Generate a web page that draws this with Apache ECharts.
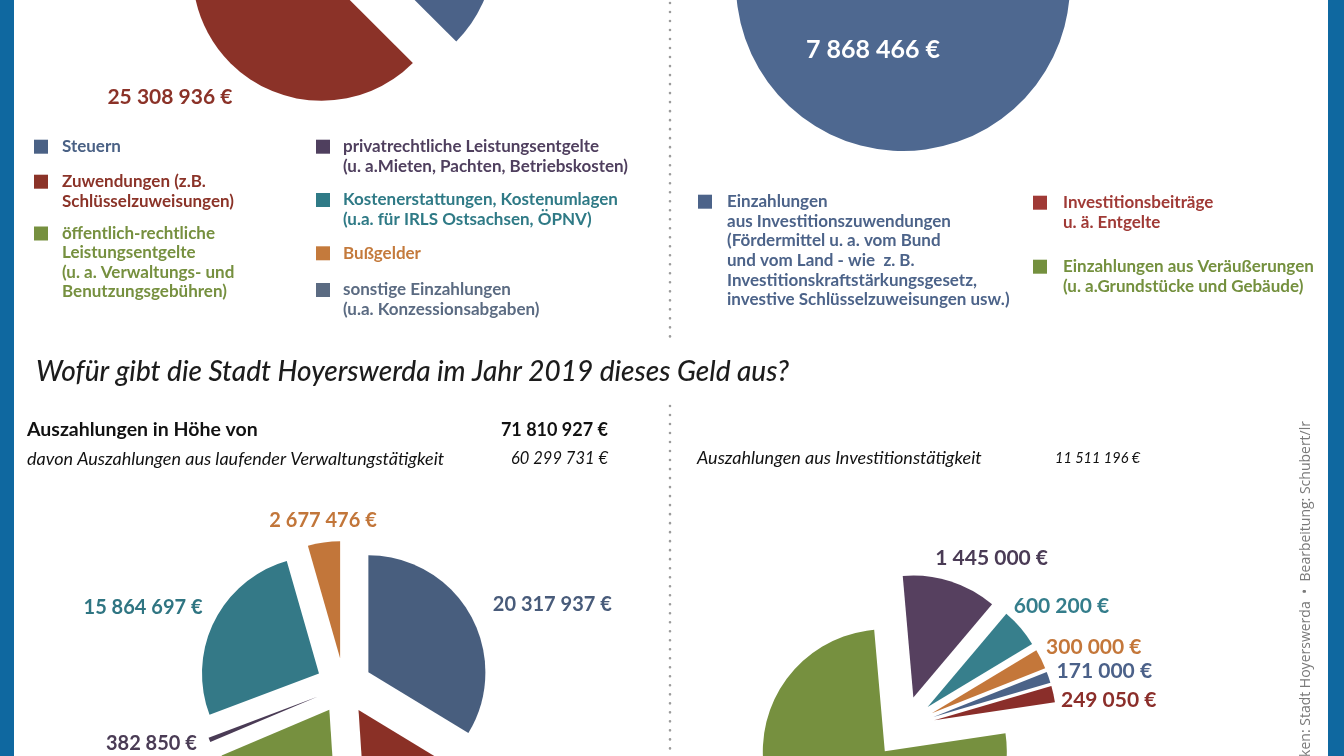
<!DOCTYPE html>
<html><head><meta charset="utf-8">
<script src="https://cdn.jsdelivr.net/npm/echarts@6/dist/echarts.min.js"></script>
<style>html,body{margin:0;padding:0;background:#fff;overflow:hidden}#c{width:1344px;height:756px}</style>
</head><body><div id="c"></div>
<script>
// ================= DATA =================
// Einzahlungen aus laufender Verwaltungstätigkeit (top-left pie; only Zuwendungen is readable, rest estimated)
const einzCategories = ['Steuern','Zuwendungen','öffentlich-rechtliche Leistungsentgelte','privatrechtliche Leistungsentgelte','Kostenerstattungen, Kostenumlagen','Bußgelder','sonstige Einzahlungen'];
const einzValues = [13200000, 25308936, 6500000, 2400000, 7200000, 190000, 3200000];
const einzLegend = ['Steuern','Zuwendungen (z.B.\nSchlüsselzuweisungen)','öffentlich-rechtliche\nLeistungsentgelte\n(u. a. Verwaltungs- und\nBenutzungsgebühren)','privatrechtliche Leistungsentgelte\n(u. a.Mieten, Pachten, Betriebskosten)','Kostenerstattungen, Kostenumlagen\n(u.a. für IRLS Ostsachsen, ÖPNV)','Bußgelder','sonstige Einzahlungen\n(u.a. Konzessionsabgaben)'];
const einzShowLabel = [false, true, false, false, false, false, false];

// Einzahlungen aus Investitionstätigkeit (top-right pie)
const invInCategories = ['Einzahlungen aus Investitionszuwendungen','Investitionsbeiträge u. ä. Entgelte','Einzahlungen aus Veräußerungen'];
const invInValues = [7868466, 120000, 580000];
const invInLegend = ['Einzahlungen\naus Investitionszuwendungen\n(Fördermittel u. a. vom Bund\nund vom Land - wie  z. B.\nInvestitionskraftstärkungsgesetz,\ninvestive Schlüsselzuweisungen usw.)','Investitionsbeiträge\nu. ä. Entgelte','Einzahlungen aus Veräußerungen\n(u. a.Grundstücke und Gebäude)'];
const invInShowLabel = [true, false, false];

// Auszahlungen aus laufender Verwaltungstätigkeit (bottom-left pie)
const auszCategories = ['blau','rot','grün','violett','petrol','orange'];
const auszValues = [20317937, 9200000, 11856771, 382850, 15864697, 2677476];
const auszShowLabel = [true, false, false, true, true, true];

// Auszahlungen aus Investitionstätigkeit (bottom-right pie)
const invOutCategories = ['violett','petrol','orange','blau','rot','grün'];
const invOutValues = [1445000, 600200, 300000, 171000, 249050, 8745946];
const invOutShowLabel = [true, true, true, true, true, false];

// Header figures
const headerTitle = 'Wofür gibt die Stadt Hoyerswerda im Jahr 2019 dieses Geld aus?';
const auszTotal = 71810927;
const auszLaufend = 60299731;
const auszInvest = 11511196;
const credit = 'Grafiken: Stadt Hoyerswerda  •  Bearbeitung: Schubert/lr';

// ================= STYLE =================
const FF = 'Lato, "Open Sans", sans-serif';
const C = {blue:'#4b6288', red:'#8b3228', green:'#76903f', purple:'#4f3f5e', teal:'#357b88', orange:'#c27538', grey:'#5e6f86', border:'#0f68a0'};
const einzColors = [C.blue, C.red, C.green, C.purple, C.teal, C.orange, C.grey];
const invInColors = ['#4e6890', '#a03a36', C.green];
const auszColors = ['#485e7e', '#8a3026', '#76903f', '#4a3b55', '#347987', '#c2763a'];
const auszLabelColors = ['#485b7a', '#8a3026', '#76903f', '#4a3c55', '#2f7582', '#c2763a'];
const invOutColors = ['#56405f', '#377f8c', '#c4773a', '#4b6388', '#8a2e2a', '#76903f'];
const invOutLabelColors = ['#4a3b55', '#347d8b', '#c4773a', '#4b6189', '#8b2e2a', '#76903f'];

function fmt(v){ return String(v).replace(/\B(?=(\d{3})+(?!\d))/g,' ') + ' €'; }

function explodedPie(cfg){
  const total = cfg.values.reduce((a,b)=>a+b,0);
  let ang = cfg.startAngle;
  return cfg.values.map((v,i)=>{
    const span = v/total*360;
    const mid = (ang - span/2)*Math.PI/180;
    ang -= span;
    const d = cfg.explode;
    const n = (cfg.nudge && cfg.nudge[i]) || {dx:0, dy:0};
    const ll = {dx:n.dx, dy:n.dy};
    if (n.align) ll.align = n.align;
    return {
      type:'pie', silent:true, animation:false, avoidLabelOverlap:false,
      center:[cfg.center[0] + d*Math.cos(mid), cfg.center[1] - d*Math.sin(mid)],
      radius: cfg.radius, startAngle: cfg.startAngle, clockwise:true,
      labelLine:{show:false, length:cfg.labelLen, length2:0},
      label:{show:true, position:cfg.labelPos, distanceToLabelLine:0, fontFamily:FF, fontWeight:'bold',
             fontSize:cfg.fontSize, color:cfg.labelColors[i], formatter:p=>fmt(p.value)},
      labelLayout: ll,
      data: cfg.values.map((vv,j)=>({
        name: cfg.names[j], value: vv,
        itemStyle:{color: j===i ? cfg.colors[j] : 'rgba(0,0,0,0)'},
        label:{show: j===i && cfg.showLabel[j]}
      }))
    };
  });
}

const series = [].concat(
  explodedPie({names:einzCategories, values:einzValues, colors:einzColors, labelColors:einzColors, showLabel:einzShowLabel,
    center:[337,-51.5], radius:129, startAngle:37, explode:28, labelLen:20, labelPos:'outside', fontSize:21,
    nudge:[null,{dx:-7,dy:1}]}),
  explodedPie({names:invInCategories, values:invInValues, colors:invInColors, labelColors:['#ffffff','#fff','#fff'], showLabel:invInShowLabel,
    center:[903,-16], radius:167, startAngle:75.3, explode:0, labelLen:20, labelPos:'inside', fontSize:25,
    nudge:[{dx:-30,dy:-21}]}),
  explodedPie({names:auszCategories, values:auszValues, colors:auszColors, labelColors:auszLabelColors, showLabel:auszShowLabel,
    center:[344,686], radius:117, startAngle:90, explode:28, labelLen:20, labelPos:'outside', fontSize:20,
    nudge:[{dx:5,dy:-1},null,null,{dx:6,dy:-4},{dx:6,dy:-4},{dx:2,dy:-2,align:'center'}]}),
  explodedPie({names:invOutCategories, values:invOutValues, colors:invOutColors, labelColors:invOutLabelColors, showLabel:invOutShowLabel,
    center:[904,727], radius:122, startAngle:95, explode:31, labelLen:20, labelPos:'outside', fontSize:21,
    nudge:[{dx:-21,dy:-4},{dx:-22,dy:-9},{dx:-13,dy:-3},{dx:-11,dy:1},{dx:-12,dy:10}]})
);

// ================= GRAPHIC (frame, texts, legends) =================
const g = [];
g.push({type:'rect', shape:{x:0,y:0,width:14,height:756}, style:{fill:C.border}});
g.push({type:'rect', shape:{x:1328,y:0,width:16,height:756}, style:{fill:C.border}});
const dot = {stroke:'#9c9c9c', lineWidth:2.6, lineDash:[0.01,9], lineCap:'round'};
g.push({type:'line', shape:{x1:670,y1:3,x2:670,y2:340}, style:dot});
g.push({type:'line', shape:{x1:670,y1:406,x2:670,y2:756}, style:dot});

function legend(texts, colors, pos, lh){
  texts.forEach((t,i)=>{
    const p = pos[i]; if(!p) return;
    g.push({type:'rect', shape:{x:p.sx, y:p.ty-7, width:14, height:14}, style:{fill:colors[i]}});
    g.push({type:'text', x:p.tx, y:p.ty - lh/2, style:{text:t, fill:colors[i], font:'bold 17px '+FF, lineHeight:lh, verticalAlign:'top', align:'left'}});
  });
}
legend(einzLegend, ['#4a6185','#8b3328','#76903f','#4f3f5e','#2f7a86','#c47a3c','#5b6b82'], [
  {sx:34,tx:62,ty:146.7},{sx:34,tx:62,ty:181.7},{sx:34,tx:62,ty:233.5},
  {sx:316,tx:343,ty:146.7},{sx:316,tx:343,ty:200},{sx:316,tx:343,ty:253.3},{sx:316,tx:343,ty:290}], 19.5);
legend(invInLegend, ['#4c6389','#a03a36','#74903e'], [
  {sx:698,tx:727,ty:201.7},{sx:1033,tx:1063,ty:202.7},{sx:1033,tx:1063,ty:266.7}], 19.6);

g.push({type:'text', x:36, y:372, style:{text:headerTitle, fill:'#1c1c1c', font:'italic 500 28px '+FF, verticalAlign:'middle'}});
g.push({type:'text', x:27, y:430, style:{text:'Auszahlungen in Höhe von', fill:'#111', font:'bold 19.5px '+FF, verticalAlign:'middle'}});
g.push({type:'text', x:608, y:430, style:{text:fmt(auszTotal), fill:'#111', font:'bold 18px '+FF, verticalAlign:'middle', align:'right'}});
g.push({type:'text', x:27, y:459, style:{text:'davon Auszahlungen aus laufender Verwaltungstätigkeit', fill:'#111', font:'italic 18px '+FF, verticalAlign:'middle'}});
g.push({type:'text', x:608, y:459, style:{text:fmt(auszLaufend), fill:'#111', font:'italic 16.5px '+FF, verticalAlign:'middle', align:'right'}});
g.push({type:'text', x:697, y:458, style:{text:'Auszahlungen aus Investitionstätigkeit', fill:'#111', font:'italic 18px '+FF, verticalAlign:'middle'}});
g.push({type:'text', x:1055, y:458, style:{text:fmt(auszInvest), fill:'#111', font:'italic 14.5px '+FF, verticalAlign:'middle'}});
g.push({type:'text', x:1306, y:421, rotation:Math.PI/2, style:{text:credit, fill:'#7a7a7a', font:'14px "Open Sans", sans-serif', align:'right', verticalAlign:'middle'}});

const chart = echarts.init(document.getElementById('c'), null, {renderer:'canvas'});
chart.setOption({backgroundColor:'#ffffff', animation:false, series:series, graphic:{elements:g}});
</script></body></html>
